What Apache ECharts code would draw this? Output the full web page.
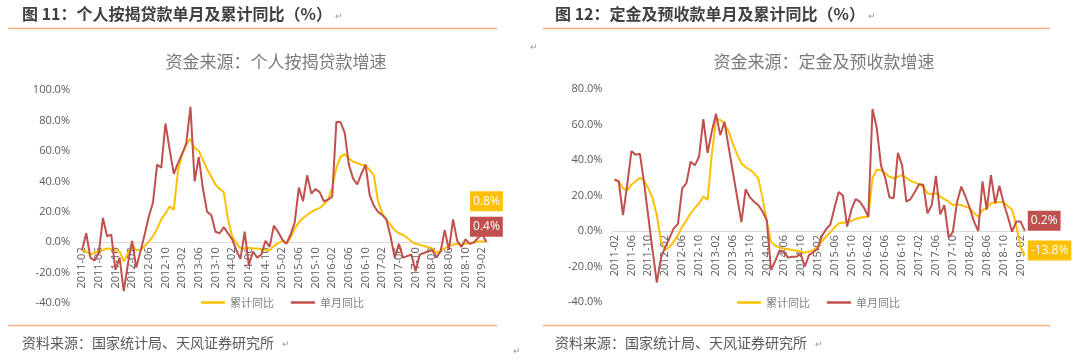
<!DOCTYPE html>
<html><head><meta charset="utf-8">
<script src="https://cdn.jsdelivr.net/npm/echarts@6/dist/echarts.min.js"></script>
<style>html,body{margin:0;padding:0;background:#fff}#c{width:1080px;height:361px}</style>
</head><body><div id="c"></div>
<script>
// ---- categories: monthly, 2011-02 .. 2019-03 ----
const startYear = 2011, startMonth = 2, monthCount = 98;
const categories = [];
for (let k = 0; k < monthCount; k++) {
  const m = startMonth - 1 + k;
  const y = startYear + Math.floor(m / 12);
  const mm = (m % 12) + 1;
  categories.push(y + '-' + (mm < 10 ? '0' + mm : mm));
}
const seriesNames = ['累计同比', '单月同比'];

// ---- Chart 11: 个人按揭贷款 ----
const mortgageCumulative = [
  -5,-6,-8,-7,-5.5,-5,-4,-4.5,-5,-6,-12.5,-7,-1.5,-5,-5,-2.5,0.5,4,9,15,
  19,23.5,21.5,47,58,64,68,62,60,54,48,43,38,35,33,15,4,-0.5,-4,-4,
  -3.5,-4,-4,-4.5,-5,-5,-2.5,-0.5,1,-0.5,3,9,13,16,18,20,21.5,22.5,25,28,
  36,49,56,58,55,53,52,51,50.5,47.5,44,27,19,15,11.5,8,6,5,3,0.5,
  -1,-1.5,-2.5,-3,-4,-7,-5.5,-4,-2.5,-1.5,-1,-1.5,-1,-0.5,0,0.5,0.5,0.8
];
const mortgageMonthly = [
  -5,6,-10,-12,-7,16,4,5,-18,-10,-32,-14,1,-16.5,-6,5,17,26,51,49,
  78,61,45,52,58,65,89,40,56,35,20,18,7,6,10,6,2,-5,-11,7,
  -15,-6,-10,-8,1,-3,11,7,2,-1,5,13,36,27,44,32,35,33,27,28,
  30,79,79,72,51,42,38,45,51,31,24,20,18,15,4,-10,-1,-10,-9,-8,
  -19,-8,-7,-6,-5,-10,-6,8,-5,15,1,-3,2,-1,0,3,5,0.4
];

// ---- Chart 12: 定金及预收款 ----
const depositCumulative = [
  29,28,24,23,26,28,30,28.5,24,18.5,9,-6,-10.5,-9,-6,-2.5,2.5,6,10,13,
  15.5,19.5,17.5,43,63,62.5,60.5,56,49,43,38,36,34.5,32.5,29.5,18.5,6,-6,-8.3,-9.4,
  -9.8,-10.3,-10.7,-11,-11.6,-12.2,-11.6,-10.7,-9,-6,-3.2,-0.8,2,4.3,4.7,5,5.6,6.8,7.5,7.9,
  8,30,34.5,34.4,32.5,30.6,29.7,30.6,31.5,30,28.2,27.4,26.3,25,21.2,20.7,21.2,19.3,18,16.5,
  14.6,15,14.6,13.7,12.8,10,8,11.8,12.8,15.6,16.2,16.2,16.2,14,12,3,-9,-13.8
];
const depositMonthly = [
  29,28,9,26,45,43,43.5,27,8,-11,-29,-15,-9,-4,1.5,4,24,27,39,37,
  42,63,44,56,66,54,61.5,47,33,19,5,23.5,19,16.5,14.5,11,6,-22,-17,-11,
  -11.5,-15,-14.5,-14.5,-13,-20,-13.5,-12,-10,-3,1,3.5,13,22,20,2.5,12,18,16.5,13,
  8,68.7,58,37,30,19,18.5,44,37,16.5,18,22,26.3,26,10,14.6,31,9.4,14.6,-3.8,
  -0.4,16.5,25,19.3,12.8,5.3,0,28,12,31.5,15.6,25.5,15.6,8,-0.4,5.3,5.3,0.2
];

const Y_COL = '#FFC000', R_COL = '#C0504D';
const CJK = '"Noto Sans CJK SC", "Noto Sans", sans-serif';
const NUM = '"Open Sans", "Noto Sans", sans-serif';

function lastLabel(arr, color, opt) {
  return arr.map((v, i) => {
    if (i !== arr.length - 1) return v;
    return {value: v, label: Object.assign({
      show: true, color: '#fff', backgroundColor: color, fontFamily: NUM,
      fontSize: 12, lineHeight: 14, padding: [3, 3],
      formatter: (p) => p.value + '%'
    }, opt)};
  });
}

function xAxis(gi, labelMargin) {
  return {
    type: 'category', gridIndex: gi, data: categories, boundaryGap: true,
    axisLine: {onZero: true, lineStyle: {color: '#D9D9D9', width: 1}},
    axisTick: {show: false},
    axisLabel: {interval: 3, rotate: 90, color: '#595959', fontSize: 11, fontFamily: NUM, margin: labelMargin}
  };
}
function yAxis(gi, min, max) {
  return {
    type: 'value', gridIndex: gi, min: min, max: max, interval: 20,
    axisLine: {show: false}, axisTick: {show: false}, splitLine: {show: false},
    axisLabel: {color: '#595959', fontSize: 11, fontFamily: NUM, margin: 10,
      formatter: (v) => v.toFixed(1) + '%'}
  };
}
function line(name, gi, data, color) {
  return {name: name, type: 'line', xAxisIndex: gi, yAxisIndex: gi, data: data,
    symbol: 'circle', symbolSize: 0.01, showSymbol: true, showAllSymbol: true,
    lineStyle: {color: color, width: 2}, itemStyle: {color: color},
    emphasis: {disabled: true}, labelLayout: {hideOverlap: false},
    z: color === R_COL ? 3 : 2, animation: false};
}

function txt(x, y, text, size, color, weight, align, family) {
  return {type: 'text', x: x, y: y, style: {text: text, fontSize: size, fill: color,
    fontWeight: weight || 'normal', fontFamily: family || CJK, align: align || 'left', verticalAlign: 'middle'}};
}
function hline(x1, x2, y) {
  return {type: 'line', shape: {x1: x1, y1: y, x2: x2, y2: y}, style: {stroke: '#F4B183', lineWidth: 1.5}};
}

const chart = echarts.init(document.getElementById('c'), null, {renderer: 'canvas'});
chart.setOption({
  animation: false,
  grid: [
    {left: 80, top: 90, width: 408.5, height: 213.3},
    {left: 612.4, top: 89, width: 414.5, height: 213}
  ],
  xAxis: [xAxis(0, -56), xAxis(1, -67)],
  yAxis: [yAxis(0, -40, 100), yAxis(1, -40, 80)],
  legend: [
    {data: seriesNames, left: 196, top: 292, icon: 'rect', itemWidth: 24, itemHeight: 2.5, itemGap: 17,
      textStyle: {color: '#808080', fontSize: 11, fontFamily: CJK}},
    {data: seriesNames, left: 732, top: 292, icon: 'rect', itemWidth: 24, itemHeight: 2.5, itemGap: 17,
      textStyle: {color: '#808080', fontSize: 11, fontFamily: CJK}}
  ],
  series: [
    line(seriesNames[0], 0, lastLabel(mortgageCumulative, Y_COL, {position: 'top', distance: 30}), Y_COL),
    line(seriesNames[1], 0, lastLabel(mortgageMonthly, R_COL, {position: 'top', distance: 5}), R_COL),
    line(seriesNames[0], 1, lastLabel(depositCumulative, Y_COL, {position: [3, -15]}), Y_COL),
    line(seriesNames[1], 1, lastLabel(depositMonthly, R_COL, {position: [3, -20]}), R_COL)
  ],
  graphic: [
    txt(22, 14, '图 11：个人按揭贷款单月及累计同比（%）', 16, '#404040', 'bold'),
    txt(335, 16, '↵', 9, '#999'),
    txt(555, 14, '图 12：定金及预收款单月及累计同比（%）', 16, '#404040', 'bold'),
    txt(868, 16, '↵', 9, '#999'),
    hline(8, 497, 28.5),
    hline(543, 1050, 28.5),
    txt(276, 62, '资金来源：个人按揭贷款增速', 17, '#7a7a7a', 'normal', 'center'),
    txt(824, 62, '资金来源：定金及预收款增速', 17, '#7a7a7a', 'normal', 'center'),
    txt(530, 47, '↵', 9, '#999'),
    hline(8, 497, 325.5),
    hline(543, 1050, 325.5),
    txt(22, 343, '资料来源：国家统计局、天风证券研究所', 14, '#595959'),
    txt(282, 344, '↵', 9, '#999'),
    txt(555, 343, '资料来源：国家统计局、天风证券研究所', 14, '#595959'),
    txt(815, 344, '↵', 9, '#999'),
    txt(513, 351, '↵', 9, '#999')
  ]
});
</script>
</body></html>
